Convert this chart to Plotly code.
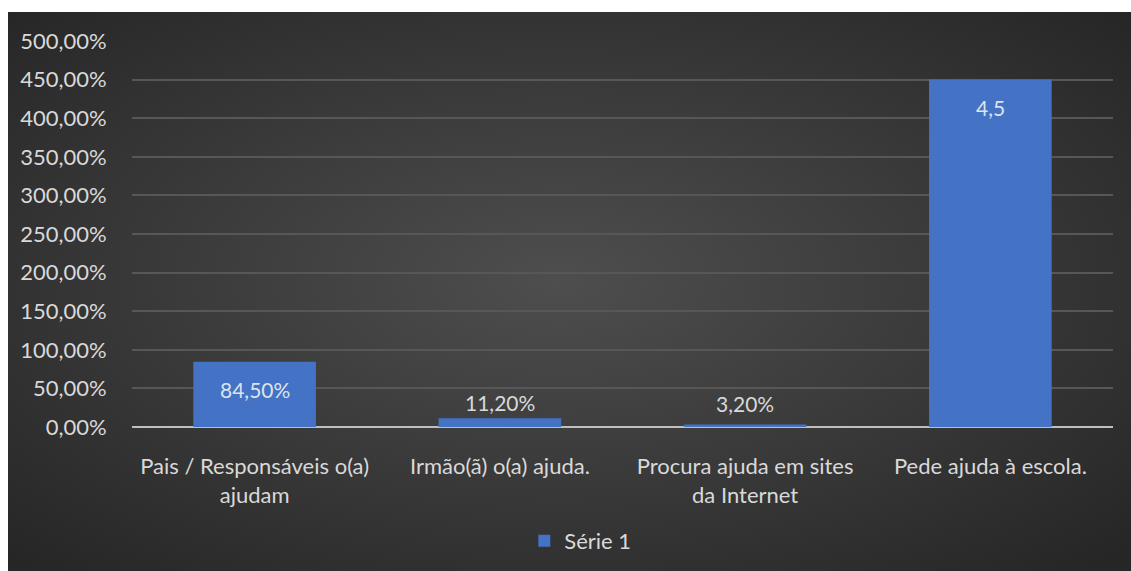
import base64
import plotly.graph_objects as go

categories = ["Pais / Responsáveis o(a)<br>ajudam", "Irmão(ã) o(a) ajuda.",
              "Procura ajuda em sites<br>da Internet", "Pede ajuda à escola."]
values = [0.845, 0.112, 0.032, 4.5]
labels = ["84,50%", "11,20%", "3,20%", "4,5"]
series_name = "Série 1"
tick_vals = [0, 0.5, 1, 1.5, 2, 2.5, 3, 3.5, 4, 4.5, 5]

# label placement style (pixel shifts relative to bar top)
label_shift = [-28, 16, 21, -28]
label_color = ["#dce3f0", "#d9d9d9", "#d9d9d9", "#dce3f0"]

FONT = "Lato"
TXT = "#d9d9d9"
FS = 22

svg = ('<svg xmlns="http://www.w3.org/2000/svg" width="1123" height="559" preserveAspectRatio="none">'
       '<defs><radialGradient id="g" cx="49%" cy="48%" r="70%">'
       '<stop offset="0%" stop-color="#4e4e4e"/>'
       '<stop offset="100%" stop-color="#262626"/>'
       '</radialGradient></defs>'
       '<rect width="1123" height="559" fill="url(#g)"/></svg>')
bg_src = "data:image/svg+xml;base64," + base64.b64encode(svg.encode()).decode()

fig = go.Figure()
fig.add_trace(go.Bar(
    x=categories, y=values, name=series_name,
    marker=dict(color="#4472c4", line=dict(width=0)),
    showlegend=True, hoverinfo="skip",
))

for c, v, t, s, col in zip(categories, values, labels, label_shift, label_color):
    fig.add_annotation(
        x=c, y=v, text=t, showarrow=False,
        yanchor="middle", yshift=s,
        font=dict(family=FONT, size=FS - 1, color=col),
    )

VW, VH = 1131, 571          # visible window
EXTRA = 14                  # dark bleed beyond window edge
W, H = VW + EXTRA, VH + EXTRA
L, R, T, B = 132, 18 + EXTRA, 41, 144 + EXTRA
pw, ph = W - L - R, H - T - B
px = lambda v: (v - L) / pw          # window px -> paper x
py = lambda v: (H - B - v) / ph      # window px -> paper y

fig.add_layout_image(
    source=bg_src, xref="paper", yref="paper",
    x=px(8), y=py(12), sizex=(VW - 8) / pw, sizey=(VH - 12) / ph,
    xanchor="left", yanchor="top", sizing="stretch", layer="below",
)
# white outer border (top and left)
fig.add_shape(type="rect", xref="paper", yref="paper", x0=px(-5), x1=px(W + 5),
              y0=py(12), y1=py(-5), fillcolor="white", line=dict(width=0), layer="above")
fig.add_shape(type="rect", xref="paper", yref="paper", x0=px(-5), x1=px(8),
              y0=py(-5), y1=py(H + 5), fillcolor="white", line=dict(width=0), layer="above")

fig.update_layout(
    width=W, height=H,
    margin=dict(l=L, r=R, t=T, b=B, autoexpand=False),
    paper_bgcolor="#282828", plot_bgcolor="rgba(0,0,0,0)",
    separators=",.",
    bargap=0.5,
    font=dict(family=FONT, size=FS, color=TXT),
    xaxis=dict(showgrid=False, showline=False, zeroline=False,
               ticks="outside", ticklen=20, tickcolor="rgba(0,0,0,0)",
               tickfont=dict(family=FONT, size=FS, color=TXT)),
    yaxis=dict(range=[0, 5], tickvals=tick_vals, tickformat=".2%",
               showgrid=True, gridcolor="#575757", gridwidth=1.5,
               zeroline=True, zerolinecolor="#bfbfbf", zerolinewidth=2,
               showline=False, ticks="outside", ticklen=20,
               tickcolor="rgba(0,0,0,0)",
               tickfont=dict(family=FONT, size=FS, color=TXT)),
    legend=dict(orientation="h", x=0.457, xanchor="center", y=-0.295, yanchor="middle",
                font=dict(family=FONT, size=FS, color=TXT),
                bgcolor="rgba(0,0,0,0)", itemwidth=30),
    hovermode=False,
)

fig.write_html("out.html", config=dict(displayModeBar=False),
               post_script="document.body.style.margin='0';document.body.style.overflow='hidden';")
